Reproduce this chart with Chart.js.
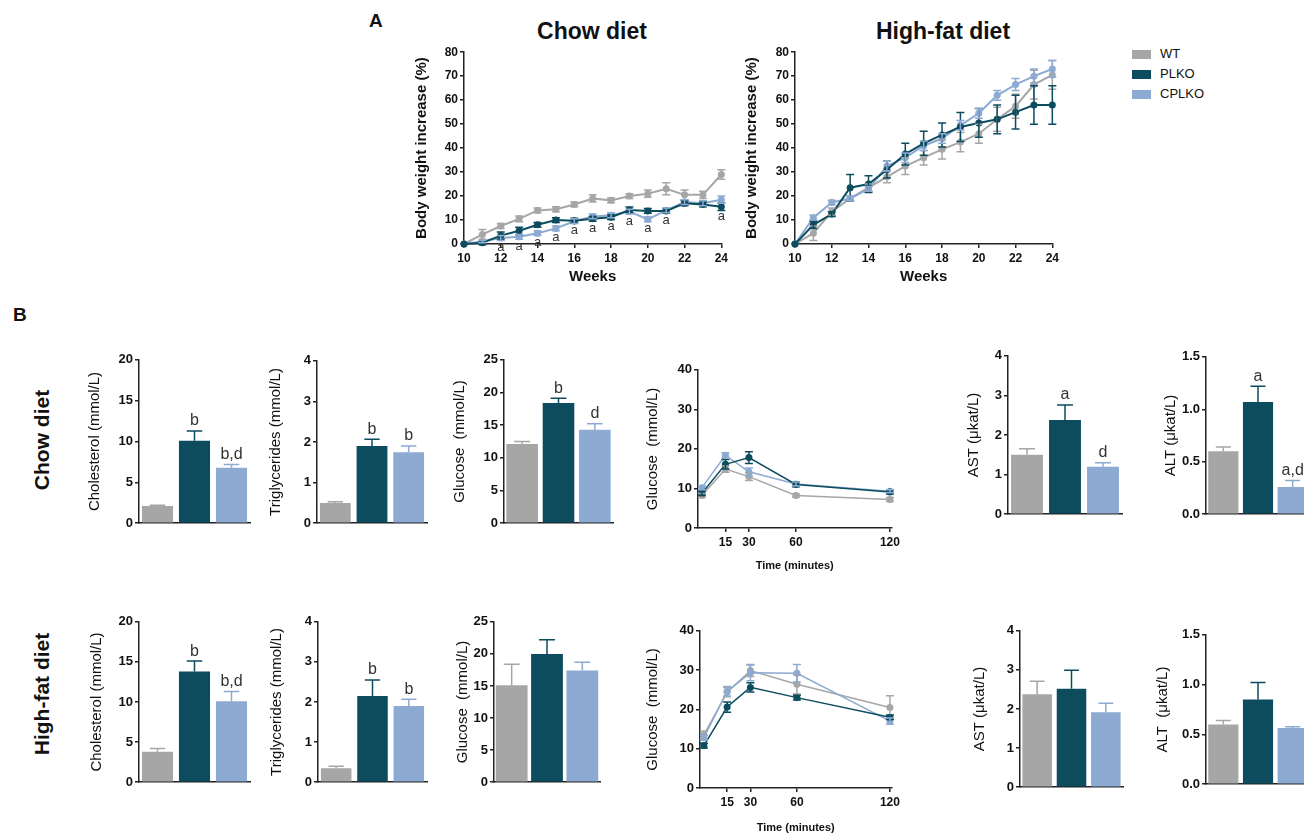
<!DOCTYPE html>
<html>
<head>
<meta charset="utf-8">
<script src="https://cdn.jsdelivr.net/npm/chart.js@4.4.1/dist/chart.umd.min.js"></script>
<style>
  body { margin: 0; width: 1304px; height: 836px; overflow: hidden; background: #fff; position: relative;
         font-family: 'Liberation Sans', Arial, sans-serif; color: #111; }
  .lbl { position: absolute; font-weight: bold; white-space: nowrap; }
  .ctr { transform: translate(-50%, -50%); }
  .vt { position: absolute; font-weight: bold; font-size: 21px; white-space: nowrap;
        transform: translate(-50%, -50%) rotate(-90deg); }
  .box { position: absolute; }
  .leg { position: absolute; left: 1132px; font-size: 13px; }
  .leg span { display: inline-block; width: 19px; height: 9px; margin-right: 9px; vertical-align: -1px; }
</style>
</head>
<body>
<div class="lbl" style="left:369px;top:10px;font-size:19px">A</div>
<div class="lbl" style="left:13px;top:304px;font-size:19px">B</div>
<div class="lbl ctr" style="left:592px;top:31px;font-size:23px">Chow diet</div>
<div class="lbl ctr" style="left:943px;top:31px;font-size:23px">High-fat diet</div>
<div class="vt" style="left:42px;top:440px">Chow diet</div>
<div class="vt" style="left:42px;top:694px">High-fat diet</div>

<script>
// groups and colours
const groups = ['WT', 'PLKO', 'CPLKO'];
const colors = ['#a6a6a6', '#0c4c5e', '#8caad2'];

// A: body weight increase (%)
const weeks = [10, 11, 12, 13, 14, 15, 16, 17, 18, 19, 20, 21, 22, 23, 24];
const weekTicks = [10, 12, 14, 16, 18, 20, 22, 24];
const chowWT       = [0, 4, 7.5, 10.5, 14, 14.5, 16.5, 19, 18.2, 20, 21, 23, 20.5, 20.5, 29];
const chowWTErr    = [0, 2, 1, 1.2, 1, 1, 1, 1.5, 1, 1, 1.5, 2.5, 2, 1.5, 2];
const chowPLKO     = [0, 0.5, 3.5, 5.5, 8, 10, 9.7, 10.5, 11.2, 14.2, 13.8, 13.8, 17, 16.5, 15.5];
const chowPLKOErr  = [0, 0.8, 1.5, 1.5, 1, 1, 1, 1, 1, 1.2, 1, 1, 1, 1, 1.5];
const chowCPLKO    = [0, 1, 2.5, 3, 4.5, 6.5, 9.5, 11.5, 12, 13.5, 10.3, 14, 17.5, 17, 18.5];
const chowCPLKOErr = [0, 0.5, 1, 1, 1, 1, 1, 1, 1, 1, 1, 1, 1, 1, 1.5];
const chowSig      = ['', '', 'a', 'a', 'a', 'a', 'a', 'a', 'a', 'a', 'a', 'a', '', '', 'a'];
const hfdWT        = [0, 4.5, 13.5, 19, 23.5, 28, 32.5, 36, 39.5, 42.5, 46, 52, 57.5, 66.5, 70.5];
const hfdWTErr     = [0, 3, 1.5, 1, 1.5, 2.5, 3.5, 3, 4, 4, 4, 5, 5, 6, 6];
const hfdPLKO      = [0, 8, 12.5, 23.5, 25, 31, 37.5, 42, 45.5, 48.8, 50.5, 52, 55, 58, 58];
const hfdPLKOErr   = [0, 1.5, 1, 5.5, 3.5, 3.5, 4.5, 5, 5, 6, 6, 6, 7, 8, 8];
const hfdCPLKO     = [0, 11, 17.3, 19, 23, 32.5, 36, 41, 44, 49.5, 54.5, 62, 66.5, 70, 73];
const hfdCPLKOErr  = [0, 1, 1, 1, 1, 2, 2, 2, 2, 2, 2, 2, 2.5, 3, 3.5];

// B: glucose tolerance (mmol/L)
const gttTime = [0, 15, 30, 60, 120];
const gttTicks = [15, 30, 60, 120];
const gttChowWT       = [8.2, 14.9, 13, 8.2, 7.2];
const gttChowWTErr    = [0.5, 0.8, 1, 0.4, 0.5];
const gttChowPLKO     = [8.8, 16.1, 17.8, 11, 9.1];
const gttChowPLKOErr  = [0.6, 1.2, 1.5, 0.6, 0.5];
const gttChowCPLKO    = [10.2, 18.4, 14.2, 11.1, 9.3];
const gttChowCPLKOErr = [0.5, 0.6, 1, 0.5, 0.4];
const gttHfdWT        = [13.5, 24.4, 29.9, 26.4, 20.5];
const gttHfdWTErr     = [1, 1.2, 1.5, 2.5, 3];
const gttHfdPLKO      = [10.8, 20.6, 25.6, 23, 18];
const gttHfdPLKOErr   = [0.6, 1.3, 1.2, 0.6, 0.6];
const gttHfdCPLKO     = [12.8, 24.6, 29.3, 29.2, 17];
const gttHfdCPLKOErr  = [0.6, 1.2, 2, 2.2, 0.8];

// B: plasma values, one per group
const cholChow = [2.1, 10.1, 6.8],   cholChowErr = [0.1, 1.2, 0.4],   cholChowSig = ['', 'b', 'b,d'];
const tgChow   = [0.5, 1.9, 1.75],   tgChowErr   = [0.03, 0.17, 0.15], tgChowSig = ['', 'b', 'b'];
const gluChow  = [12.1, 18.4, 14.3], gluChowErr  = [0.4, 0.7, 0.9],   gluChowSig = ['', 'b', 'd'];
const astChow  = [1.5, 2.38, 1.2],   astChowErr  = [0.15, 0.38, 0.1], astChowSig = ['', 'a', 'd'];
const altChow  = [0.6, 1.07, 0.26],  altChowErr  = [0.04, 0.15, 0.06], altChowSig = ['', 'a', 'a,d'];
const cholHfd  = [3.8, 13.8, 10.1],  cholHfdErr  = [0.4, 1.3, 1.2],   cholHfdSig = ['', 'b', 'b,d'];
const tgHfd    = [0.35, 2.15, 1.9],  tgHfdErr    = [0.05, 0.4, 0.17], tgHfdSig = ['', 'b', 'b'];
const gluHfd   = [15.1, 20.0, 17.4], gluHfdErr   = [3.3, 2.2, 1.3],   gluHfdSig = ['', '', ''];
const astHfd   = [2.38, 2.52, 1.92], astHfdErr   = [0.33, 0.47, 0.23], astHfdSig = ['', '', ''];
const altHfd   = [0.6, 0.85, 0.565], altHfdErr   = [0.04, 0.17, 0.012], altHfdSig = ['', '', ''];

Chart.defaults.font.family = "'Liberation Sans', Arial, sans-serif";
Chart.defaults.color = '#111';

// legend
groups.forEach((g, i) => {
  const d = document.createElement('div');
  d.className = 'leg';
  d.style.top = (46 + i * 20) + 'px';
  d.innerHTML = '<span style="background:' + colors[i] + '"></span>' + g;
  document.body.appendChild(d);
});

// error bars (and letters above bars)
const errorBars = {
  id: 'errorBars',
  afterDatasetsDraw(chart) {
    const ctx = chart.ctx, ys = chart.scales.y, isBar = chart.config.type === 'bar';
    chart.data.datasets.forEach((ds, i) => {
      if (!ds.err) return;
      chart.getDatasetMeta(i).data.forEach((el, j) => {
        const raw = ds.data[j];
        const v = typeof raw === 'object' ? raw.y : raw;
        const e = ds.err[j] || 0;
        const top = ys.getPixelForValue(v + e);
        const col = Array.isArray(ds.errColor) ? ds.errColor[j] : ds.errColor;
        const cap = isBar ? el.width / 4 : 4;
        if (e) {
          ctx.save();
          ctx.strokeStyle = col;
          ctx.lineWidth = 1.5;
          ctx.beginPath();
          const bot = isBar ? el.y : ys.getPixelForValue(v - e);
          ctx.moveTo(el.x, bot);
          ctx.lineTo(el.x, top);
          ctx.moveTo(el.x - cap, top);
          ctx.lineTo(el.x + cap, top);
          if (!isBar) {
            ctx.moveTo(el.x - cap, bot);
            ctx.lineTo(el.x + cap, bot);
          }
          ctx.stroke();
          ctx.restore();
        }
        if (isBar && ds.sig && ds.sig[j]) {
          ctx.save();
          ctx.fillStyle = '#333';
          ctx.font = "16px 'Liberation Sans', Arial, sans-serif";
          ctx.textAlign = 'center';
          ctx.textBaseline = 'bottom';
          ctx.fillText(ds.sig[j], el.x, top - 2);
          ctx.restore();
        }
      });
    });
  }
};

// 'a' letters under the chow curves
const chowLetters = {
  id: 'chowLetters',
  afterDatasetsDraw(chart) {
    const {ctx, scales: {x, y}} = chart;
    ctx.save();
    ctx.fillStyle = '#333';
    ctx.font = "13px 'Liberation Sans', Arial, sans-serif";
    ctx.textAlign = 'center';
    ctx.textBaseline = 'top';
    chowSig.forEach((t, i) => {
      if (!t) return;
      const low = Math.min(chowPLKO[i], chowCPLKO[i]);
      ctx.fillText(t, x.getPixelForValue(weeks[i]), y.getPixelForValue(low) + 3);
    });
    ctx.restore();
  }
};

function yAxis(max, step, title, titleSize, titleBold, tickSize, digits) {
  return {
    min: 0, max,
    ticks: { stepSize: step, color: '#111', padding: 2,
             font: { size: tickSize, weight: 'bold' },
             callback: v => digits ? v.toFixed(digits) : v },
    grid: { display: true, drawOnChartArea: false, drawTicks: true, tickLength: 4, color: '#222', lineWidth: 1.5 },
    border: { display: true, color: '#222', width: 1.5 },
    title: { display: true, text: title, color: '#111', padding: 0,
             font: { size: titleSize, weight: titleBold ? 'bold' : 'normal' } }
  };
}

function xLinear(min, max, ticks, title, titleSize) {
  return {
    type: 'linear', min, max,
    afterBuildTicks: s => { s.ticks = ticks.map(v => ({ value: v })); },
    ticks: { color: '#111', padding: 3, maxRotation: 0, autoSkip: false, font: { size: 12, weight: 'bold' } },
    grid: { display: true, drawOnChartArea: false, drawTicks: true, tickLength: 4, color: '#222', lineWidth: 1.5 },
    border: { display: true, color: '#222', width: 1.5 },
    title: { display: true, text: title, color: '#111', padding: 0, font: { size: titleSize, weight: 'bold' } }
  };
}

function xCategory() {
  return {
    type: 'category',
    ticks: { display: false },
    grid: { display: false, drawTicks: false },
    border: { display: true, color: '#222', width: 1.5 }
  };
}

function build(b, type, labels, datasets, xOpts, yOpts, extra) {
  const wrap = document.createElement('div');
  wrap.className = 'box';
  wrap.style.left = (b.x0 - b.wy) + 'px';
  wrap.style.top = (b.top - 8) + 'px';
  wrap.style.width = (b.x1 - b.x0 + b.wy + 8) + 'px';
  wrap.style.height = (b.bottom - b.top + 8 + b.hx) + 'px';
  const cv = document.createElement('canvas');
  wrap.appendChild(cv);
  document.body.appendChild(wrap);
  xOpts.afterFit = s => { s.height = b.hx; };
  yOpts.afterFit = s => { s.width = b.wy; };
  return new Chart(cv, {
    type,
    data: { labels, datasets },
    options: {
      responsive: true, maintainAspectRatio: false, animation: false,
      layout: { padding: { top: 8, right: 8, left: 0, bottom: 0 } },
      plugins: { legend: { display: false }, tooltip: { enabled: false } },
      scales: { x: xOpts, y: yOpts }
    },
    plugins: [errorBars].concat(extra || [])
  });
}

function lineSet(xs, vals, errs, gi, width, radius) {
  return {
    label: groups[gi],
    data: xs.map((x, i) => ({ x, y: vals[i] })),
    err: errs, errColor: colors[gi],
    borderColor: colors[gi], backgroundColor: colors[gi],
    borderWidth: width, pointRadius: radius, pointBorderWidth: 0,
    order: [2, 0, 1][gi], clip: false
  };
}

function barSet(vals, errs, sig) {
  return {
    data: vals, err: errs, sig, errColor: colors,
    backgroundColor: colors, borderWidth: 0,
    barPercentage: 0.84, categoryPercentage: 1
  };
}

// Panel A
build({ x0: 464, x1: 723, top: 51, bottom: 244, wy: 51, hx: 42 }, 'line', null, [
  lineSet(weeks, chowWT, chowWTErr, 0, 2, 3.5),
  lineSet(weeks, chowPLKO, chowPLKOErr, 1, 2, 3.5),
  lineSet(weeks, chowCPLKO, chowCPLKOErr, 2, 2, 3.5)
], xLinear(10, 24, weekTicks, 'Weeks', 15), yAxis(80, 10, 'Body weight increase (%)', 15, true, 12), [chowLetters]);

build({ x0: 795, x1: 1054, top: 51, bottom: 244, wy: 52, hx: 42 }, 'line', null, [
  lineSet(weeks, hfdWT, hfdWTErr, 0, 2, 3.5),
  lineSet(weeks, hfdPLKO, hfdPLKOErr, 1, 2, 3.5),
  lineSet(weeks, hfdCPLKO, hfdCPLKOErr, 2, 2, 3.5)
], xLinear(10, 24, weekTicks, 'Weeks', 15), yAxis(80, 10, 'Body weight increase (%)', 15, true, 12));

// Panel B, chow row
const bar = (b, vals, errs, sig, max, step, title, digits, pct) => {
  const ds = barSet(vals, errs, sig);
  if (pct) ds.barPercentage = pct;
  build(b, 'bar', groups, [ds], xCategory(), yAxis(max, step, title, 15, false, 13, digits));
};

bar({ x0: 139, x1: 250, top: 358, bottom: 529, wy: 53, hx: 4 }, cholChow, cholChowErr, cholChowSig, 20, 5, 'Cholesterol (mmol/L)');
bar({ x0: 317, x1: 427, top: 359, bottom: 529, wy: 50, hx: 4 }, tgChow, tgChowErr, tgChowSig, 4, 1, 'Triglycerides (mmol/L)');
bar({ x0: 504, x1: 613, top: 358, bottom: 529, wy: 53, hx: 4 }, gluChow, gluChowErr, gluChowSig, 25, 5, 'Glucose  (mmol/L)', 0, 0.87);
build({ x0: 698, x1: 895, top: 368, bottom: 528, wy: 54, hx: 45 }, 'line', null, [
  lineSet(gttTime, gttChowWT, gttChowWTErr, 0, 1.5, 3.5),
  lineSet(gttTime, gttChowPLKO, gttChowPLKOErr, 1, 1.5, 3.5),
  lineSet(gttTime, gttChowCPLKO, gttChowCPLKOErr, 2, 1.5, 3.5)
], xLinear(-2.5, 121, gttTicks, 'Time (minutes)', 11), yAxis(40, 10, 'Glucose  (mmol/L)', 15, false, 13));
bar({ x0: 1008, x1: 1122, top: 354, bottom: 520, wy: 43, hx: 4 }, astChow, astChowErr, astChowSig, 4, 1, 'AST (\u03BCkat/L)');
bar({ x0: 1206, x1: 1310, top: 355, bottom: 520, wy: 44, hx: 4 }, altChow, altChowErr, altChowSig, 1.5, 0.5, 'ALT (\u03BCkat/L)', 1, 0.87);

// Panel B, high-fat row
bar({ x0: 139, x1: 250, top: 620, bottom: 788, wy: 51, hx: 4 }, cholHfd, cholHfdErr, cholHfdSig, 20, 5, 'Cholesterol (mmol/L)');
bar({ x0: 318, x1: 427, top: 620, bottom: 788, wy: 50, hx: 4 }, tgHfd, tgHfdErr, tgHfdSig, 4, 1, 'Triglycerides (mmol/L)');
bar({ x0: 494, x1: 600, top: 620, bottom: 788, wy: 40, hx: 4 }, gluHfd, gluHfdErr, gluHfdSig, 25, 5, 'Glucose  (mmol/L)', 0, 0.9);
build({ x0: 700, x1: 895, top: 629, bottom: 788, wy: 56, hx: 47 }, 'line', null, [
  lineSet(gttTime, gttHfdWT, gttHfdWTErr, 0, 1.5, 3.5),
  lineSet(gttTime, gttHfdPLKO, gttHfdPLKOErr, 1, 1.5, 3.5),
  lineSet(gttTime, gttHfdCPLKO, gttHfdCPLKOErr, 2, 1.5, 3.5)
], xLinear(-2.5, 121, gttTicks, 'Time (minutes)', 11), yAxis(40, 10, 'Glucose  (mmol/L)', 15, false, 13));
bar({ x0: 1020, x1: 1123, top: 629, bottom: 793, wy: 49, hx: 4 }, astHfd, astHfdErr, astHfdSig, 4, 1, 'AST (\u03BCkat/L)', 0, 0.86);
bar({ x0: 1206, x1: 1310, top: 633, bottom: 790, wy: 52, hx: 4 }, altHfd, altHfdErr, altHfdSig, 1.5, 0.5, 'ALT  (\u03BCkat/L)', 1, 0.87);
</script>
</body>
</html>
